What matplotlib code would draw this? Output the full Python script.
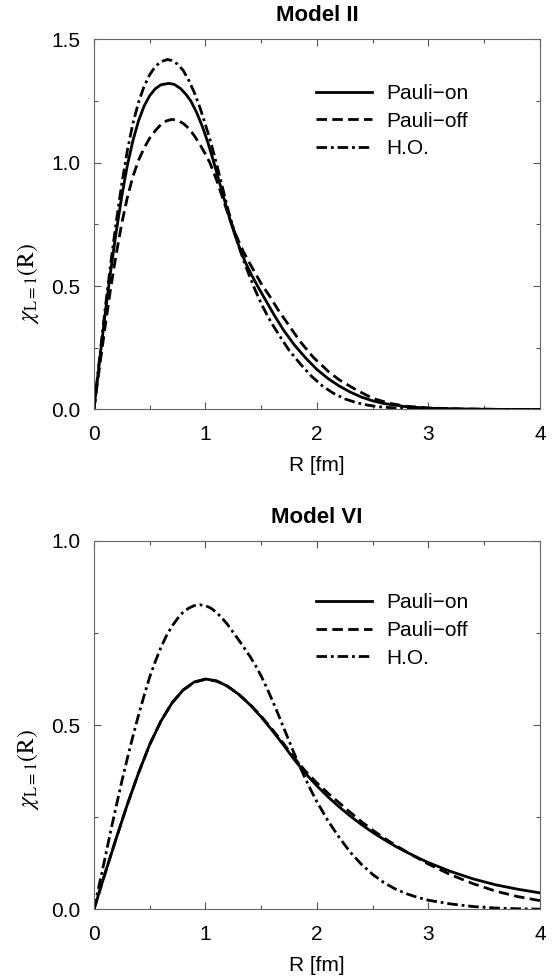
import matplotlib
matplotlib.use("Agg")
import matplotlib.pyplot as plt
from matplotlib.ticker import MultipleLocator, FormatStrFormatter

plt.rcParams['font.family'] = ['Liberation Sans', 'DejaVu Sans']
plt.rcParams['mathtext.fontset'] = 'stix'

# ---------------- Model II (top panel) ----------------
r_on_2 = [0.00, 0.05, 0.10, 0.15, 0.20, 0.25, 0.30, 0.35, 0.40, 0.45, 0.50, 0.55, 0.60, 0.67,
          0.72, 0.78, 0.83, 0.87, 0.92, 0.97, 1.02, 1.07, 1.12, 1.17, 1.22, 1.27, 1.32, 1.37,
          1.42, 1.48, 1.55, 1.62, 1.70, 1.80, 1.90, 2.00, 2.10, 2.20, 2.30, 2.40, 2.50, 2.60,
          2.80, 3.00, 3.30, 3.70, 4.00]
v_on_2 = [0.000, 0.195, 0.385, 0.560, 0.720, 0.865, 0.990, 1.090, 1.170, 1.230, 1.272, 1.300,
          1.316, 1.322, 1.318, 1.300, 1.275, 1.250, 1.205, 1.150, 1.085, 1.010, 0.930, 0.850,
          0.770, 0.700, 0.638, 0.585, 0.540, 0.490, 0.435, 0.380, 0.322, 0.260, 0.208, 0.162,
          0.125, 0.095, 0.070, 0.050, 0.035, 0.024, 0.011, 0.005, 0.002, 0.000, 0.000]

r_off_2 = [0.00, 0.05, 0.10, 0.15, 0.20, 0.25, 0.30, 0.35, 0.40, 0.45, 0.50, 0.55, 0.60, 0.65,
           0.70, 0.75, 0.80, 0.85, 0.90, 0.95, 1.00, 1.04, 1.10, 1.16, 1.22, 1.28, 1.34, 1.40,
           1.45, 1.50, 1.575, 1.65, 1.75, 1.85, 1.97, 2.10, 2.20, 2.35, 2.50, 2.65, 2.80, 3.00,
           3.30, 3.70, 4.00]
v_off_2 = [0.000, 0.170, 0.335, 0.490, 0.630, 0.755, 0.860, 0.945, 1.010, 1.060, 1.100, 1.130,
           1.155, 1.170, 1.176, 1.172, 1.160, 1.140, 1.110, 1.075, 1.035, 1.000, 0.930, 0.850,
           0.770, 0.700, 0.640, 0.590, 0.550, 0.510, 0.460, 0.405, 0.340, 0.275, 0.210, 0.155,
           0.120, 0.080, 0.045, 0.025, 0.013, 0.006, 0.002, 0.000, 0.000]

r_ho_2 = [0.00, 0.05, 0.10, 0.15, 0.20, 0.25, 0.30, 0.35, 0.40, 0.45, 0.50, 0.55, 0.60, 0.66,
          0.70, 0.75, 0.80, 0.85, 0.90, 0.95, 1.00, 1.05, 1.10, 1.15, 1.20, 1.25, 1.30, 1.35,
          1.40, 1.45, 1.50, 1.55, 1.60, 1.67, 1.75, 1.85, 1.95, 2.05, 2.15, 2.25, 2.35, 2.45,
          2.55, 2.70, 2.90, 3.20, 3.60, 4.00]
v_ho_2 = [0.000, 0.205, 0.405, 0.590, 0.760, 0.915, 1.050, 1.160, 1.245, 1.310, 1.357, 1.390,
          1.410, 1.419, 1.414, 1.400, 1.375, 1.335, 1.285, 1.225, 1.155, 1.080, 0.995, 0.905,
          0.815, 0.735, 0.660, 0.595, 0.535, 0.480, 0.430, 0.385, 0.345, 0.295, 0.240, 0.185,
          0.135, 0.095, 0.065, 0.043, 0.028, 0.018, 0.011, 0.006, 0.003, 0.001, 0.000, 0.000]

# ---------------- Model VI (bottom panel) ----------------
r_on_6 = [0.0, 0.1, 0.2, 0.3, 0.4, 0.5, 0.6, 0.7, 0.8, 0.9, 1.0, 1.1, 1.2, 1.3, 1.4, 1.5,
          1.6, 1.7, 1.8, 1.9, 2.0, 2.1, 2.2, 2.3, 2.4, 2.5, 2.6, 2.7, 2.8, 2.9, 3.0, 3.2,
          3.4, 3.6, 3.8, 4.0]
v_on_6 = [0.000, 0.098, 0.193, 0.285, 0.370, 0.447, 0.510, 0.560, 0.595, 0.617, 0.625, 0.620,
          0.605, 0.583, 0.555, 0.522, 0.485, 0.446, 0.405, 0.368, 0.335, 0.305, 0.278, 0.253,
          0.230, 0.209, 0.190, 0.172, 0.156, 0.141, 0.127, 0.103, 0.083, 0.067, 0.055, 0.045]

r_off_6 = [0.0, 0.1, 0.2, 0.3, 0.4, 0.5, 0.6, 0.7, 0.8, 0.9, 1.0, 1.1, 1.2, 1.3, 1.4, 1.5,
           1.6, 1.7, 1.8, 1.9, 2.0, 2.1, 2.2, 2.3, 2.4, 2.5, 2.6, 2.7, 2.8, 2.9, 3.0, 3.2,
           3.4, 3.6, 3.8, 4.0]
v_off_6 = [0.000, 0.098, 0.193, 0.285, 0.370, 0.447, 0.510, 0.560, 0.595, 0.616, 0.624, 0.619,
           0.605, 0.583, 0.556, 0.524, 0.488, 0.450, 0.410, 0.374, 0.343, 0.315, 0.289, 0.263,
           0.238, 0.215, 0.194, 0.175, 0.157, 0.140, 0.123, 0.094, 0.070, 0.050, 0.035, 0.024]

r_ho_6 = [0.00, 0.05, 0.10, 0.15, 0.20, 0.25, 0.30, 0.35, 0.40, 0.45, 0.50, 0.55, 0.60, 0.65,
          0.70, 0.75, 0.80, 0.85, 0.90, 0.95, 1.00, 1.05, 1.10, 1.15, 1.20, 1.25, 1.30, 1.35,
          1.40, 1.45, 1.50, 1.55, 1.60, 1.65, 1.70, 1.75, 1.80, 1.85, 1.90, 1.95, 2.00, 2.10,
          2.20, 2.30, 2.40, 2.50, 2.60, 2.70, 2.80, 2.90, 3.00, 3.20, 3.40, 3.60, 3.80, 4.00]
v_ho_6 = [0.000, 0.070, 0.140, 0.212, 0.280, 0.347, 0.410, 0.470, 0.527, 0.580, 0.630, 0.672,
          0.710, 0.742, 0.768, 0.789, 0.806, 0.817, 0.824, 0.826, 0.824, 0.817, 0.805, 0.790,
          0.772, 0.751, 0.730, 0.708, 0.686, 0.661, 0.633, 0.601, 0.567, 0.531, 0.494, 0.457,
          0.420, 0.385, 0.352, 0.321, 0.292, 0.240, 0.195, 0.155, 0.122, 0.095, 0.073, 0.056,
          0.043, 0.033, 0.025, 0.015, 0.008, 0.004, 0.002, 0.001]

labels = ["Pauli\u2212on", "Pauli\u2212off", "H.O."]
titles = ["Model II", "Model VI"]
ylims = [1.5, 1.0]
legend_y = [0.88, 0.858]
ylabel_y = [0.34, 0.38]

fig = plt.figure(figsize=(5.59, 9.77), dpi=100)
ax1 = fig.add_axes([0.168, 0.5809, 0.798, 0.3787])
ax2 = fig.add_axes([0.168, 0.0691, 0.798, 0.3775])

panels = [
    (ax1, (r_on_2, v_on_2), (r_off_2, v_off_2), (r_ho_2, v_ho_2)),
    (ax2, (r_on_6, v_on_6), (r_off_6, v_off_6), (r_ho_6, v_ho_6)),
]

lw = 2.0
for i, (ax, on, off, ho) in enumerate(panels):
    ax.plot(on[0], on[1], color='black', lw=lw, ls='-', label=labels[0])
    ax.plot(off[0], off[1], color='black', lw=lw, ls=(0, (3.8, 1.9)), label=labels[1])
    ax.plot(ho[0], ho[1], color='black', lw=lw, ls=(0, (3.8, 1.4, 1.0, 1.4)), label=labels[2])
    ax.set_xlim(0, 4)
    ax.set_ylim(0, ylims[i])
    ax.xaxis.set_major_locator(MultipleLocator(1))
    ax.xaxis.set_minor_locator(MultipleLocator(0.5))
    ax.yaxis.set_major_locator(MultipleLocator(0.5))
    ax.yaxis.set_minor_locator(MultipleLocator(0.25))
    ax.yaxis.set_major_formatter(FormatStrFormatter('%.1f'))
    ax.tick_params(which='both', direction='in', top=True, right=True,
                   labelsize=15, color='#555555', width=0.8)
    ax.tick_params(which='major', length=5)
    ax.tick_params(which='minor', length=3)
    ax.tick_params(axis='x', which='major', pad=11)
    ax.tick_params(axis='y', which='major', pad=10)
    for s in ax.spines.values():
        s.set_color('#666666')
        s.set_linewidth(0.8)
    ax.set_xlabel("R [fm]", fontsize=15, labelpad=9)
    ax.set_ylabel(r"$\chi_{\mathrm{L=1}}\mathrm{(R)}$", fontsize=17)
    ax.yaxis.set_label_coords(-0.118, ylabel_y[i])
    ax.set_title(titles[i], fontsize=16, fontweight='bold', pad=13)
    ax.legend(loc='upper left', bbox_to_anchor=(0.497, legend_y[i]), frameon=False,
              fontsize=15, handlelength=2.69, handletextpad=0.72, labelspacing=0.42,
              borderaxespad=0, borderpad=0)

fig.savefig("out.png", dpi=100)
